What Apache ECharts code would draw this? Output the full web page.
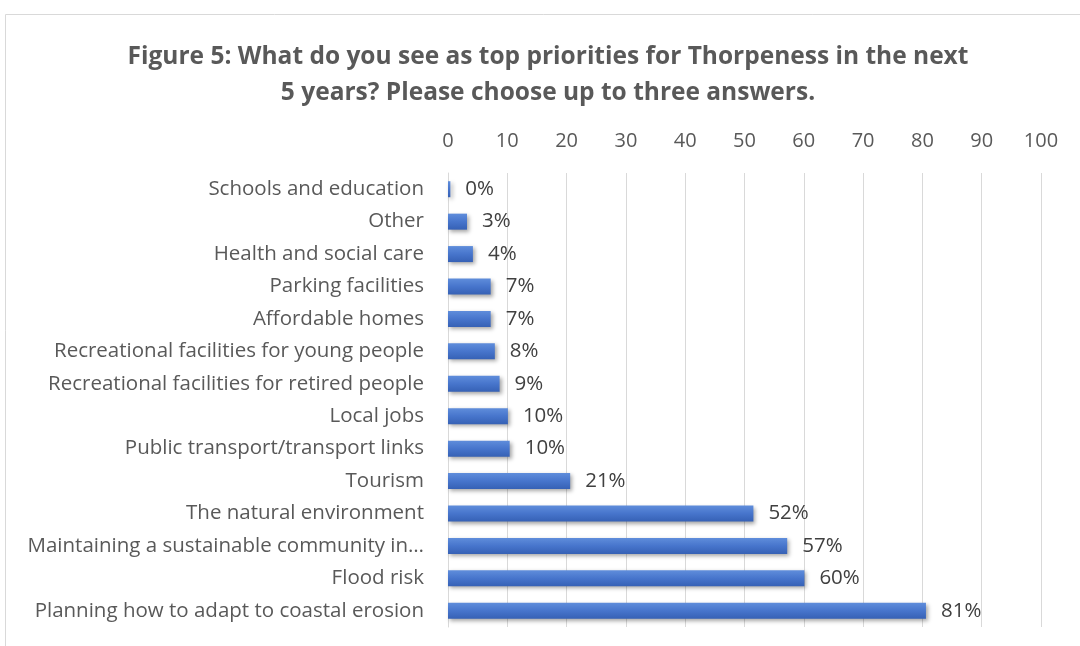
<!DOCTYPE html>
<html>
<head>
<meta charset="utf-8">
<script src="https://cdn.jsdelivr.net/npm/echarts@6/dist/echarts.min.js"></script>
<style>
  html, body { margin: 0; padding: 0; background: #fff; }
  #chart { width: 1080px; height: 646px; }
</style>
</head>
<body>
<div id="chart"></div>
<script>
// categories from top to bottom, as in the figure
var categories = [
  'Schools and education',
  'Other',
  'Health and social care',
  'Parking facilities',
  'Affordable homes',
  'Recreational facilities for young people',
  'Recreational facilities for retired people',
  'Local jobs',
  'Public transport/transport links',
  'Tourism',
  'The natural environment',
  'Maintaining a sustainable community in\u2026',
  'Flood risk',
  'Planning how to adapt to coastal erosion'
]
// percent of respondents
var values = [0.4, 3.2, 4.2, 7.2, 7.2, 7.9, 8.7, 10.1, 10.4, 20.6, 51.5, 57.2, 60.1, 80.6]
var axisMin = 0
var axisMax = 100
var axisStep = 10

var chart = echarts.init(document.getElementById('chart'))
var font = '"Open Sans", Lato, sans-serif'

chart.setOption({
  animation: false,
  graphic: [
    {
      type: 'rect',
      shape: { x: 5.5, y: 14.5, width: 1090, height: 640 },
      style: { fill: 'none', stroke: '#d9d9d9', lineWidth: 1 }
    },
    {
      type: 'text',
      x: 548,
      y: 39,
      style: {
        text: 'Figure 5: What do you see as top priorities for Thorpeness in the next\n5 years? Please choose up to three answers.',
        textAlign: 'center',
        textVerticalAlign: 'top',
        font: 'bold 24.5px ' + font,
        lineHeight: 36,
        fill: '#595959'
      }
    }
  ],
  grid: { left: 448, right: 39, top: 173, bottom: 19, containLabel: false },
  xAxis: {
    type: 'value',
    position: 'top',
    min: axisMin,
    max: axisMax,
    interval: axisStep,
    axisLine: { show: false },
    axisTick: { show: false },
    axisLabel: { color: '#595959', fontSize: 20, fontFamily: font, margin: 22 },
    splitLine: { lineStyle: { color: '#d9d9d9', width: 1 } }
  },
  yAxis: {
    type: 'category',
    data: categories,
    inverse: true,
    axisLine: { show: true, lineStyle: { color: '#d9d9d9' } },
    axisTick: { show: false },
    axisLabel: { color: '#595959', fontSize: 20.5, fontFamily: font, margin: 24 }
  },
  series: [{
    type: 'bar',
    data: values,
    barWidth: 16,
    itemStyle: {
      color: new echarts.graphic.LinearGradient(0, 0, 0, 1, [
        { offset: 0, color: '#5f8ddb' },
        { offset: 0.5, color: '#4775cc' },
        { offset: 1, color: '#3661b5' }
      ]),
      shadowColor: 'rgba(0,0,0,0.35)',
      shadowBlur: 4,
      shadowOffsetX: 2,
      shadowOffsetY: 2
    },
    label: {
      show: true,
      position: 'right',
      distance: 15,
      color: '#404040',
      fontSize: 20.5,
      fontFamily: font,
      formatter: function (p) { return Math.round(p.value) + '%' }
    }
  }]
})
</script>
</body>
</html>
